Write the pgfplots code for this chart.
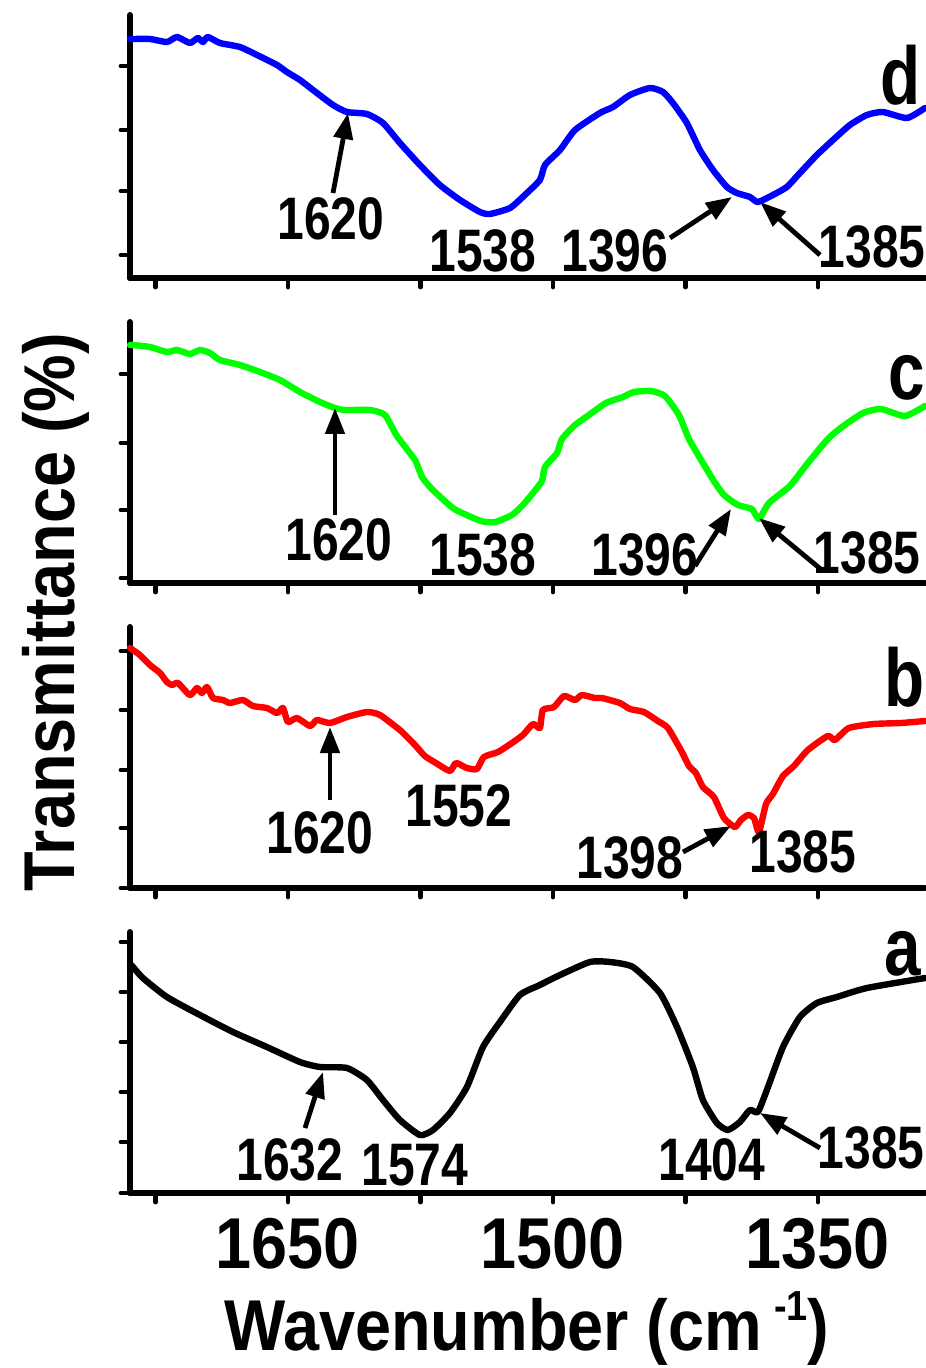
\documentclass[border=0pt]{standalone}
\usepackage{fontspec}
\setmainfont{Liberation Sans}[FakeStretch=0.9]
\newfontfamily\annfont{Liberation Sans}[FakeStretch=0.80]
\usepackage{pgfplots}
\pgfplotsset{compat=1.18}
\usetikzlibrary{arrows.meta}
\pgfplotsset{
  panel/.style={
    scale only axis, width=397.5pt,
    xmin=1289.4, xmax=1739.4, x dir=reverse,
    ymin=0,
    axis lines=left,
    axis line style={-, line width=3pt, black, line cap=round},
    xtick={1350,1425,1500,1575,1650,1725},
    xticklabels={},
    yticklabels={},
    tick align=outside,
    major tick length=4.5pt,
    tick style={line width=2.4pt, black, line cap=round},
    clip=false,
    every axis plot/.append style={line width=3.2pt, line join=round, line cap=round, mark=none, smooth, tension=0.35},
  }
}
\begin{document}
\begin{tikzpicture}
\path[use as bounding box] (0pt,0pt) rectangle (462.5pt,-684pt);

% panel d
\begin{axis}[panel, at={(65pt,-139pt)}, anchor=south west, height=131.5pt, ymax=263,
  ytick={23,87,148,212}]
\addplot[blue] coordinates {
(1739.4,239)(1737.7,239)(1728.1,239)(1718.5,236)(1712.8,241)(1705.5,235)(1701.0,240)(1698.1,236)(1695.3,241)
(1688.5,235)(1677.2,231)(1667.5,223)(1656.2,213)(1650.6,206)(1643.2,198)(1633.6,185)(1624.5,173)(1616.6,166)
(1605.3,164)(1596.2,155)(1586.6,135)(1575.3,113)(1564.0,93)(1552.6,78)(1541.3,66)(1535.7,64)(1524.3,70)
(1515.9,83)(1507.4,98)(1504.5,113)(1496.0,128)(1487.5,148)(1473.4,165)(1466.0,171)(1456.4,183)(1445.1,190)
(1437.7,186)(1432.1,175)(1424.2,155)(1416.8,128)(1409.4,108)(1401.5,91)(1395.9,85)(1388.5,81)(1384.0,76)
(1375.5,83)(1367.6,91)(1360.2,105)(1350.6,123)(1341.5,138)(1331.9,153)(1322.3,163)(1313.3,166)(1299.6,160)(1289.4,170)
};
\end{axis}

% panel c
\begin{axis}[panel, at={(65pt,-291.5pt)}, anchor=south west, height=130.5pt, ymax=261,
  ytick={5,73,140,209}]
\addplot[color={rgb,255:red,0;green,255;blue,0}] coordinates {
(1739.4,238)(1737.7,238)(1728.1,236)(1718.5,231)(1712.8,233)(1705.5,229)(1699.8,233)(1694.1,230)(1688.5,223)
(1677.2,218)(1665.8,211)(1654.5,203)(1643.2,191)(1631.9,181)(1623.4,175)(1617.7,173)(1603.6,173)(1595.1,168)
(1588.3,147)(1578.1,123)(1574.1,106)(1568.5,94)(1560.6,81)(1554.9,73)(1540.8,62)(1532.8,61)(1523.2,68)
(1517.0,78)(1511.3,90)(1506.2,102)(1504.5,116)(1497.7,130)(1494.9,144)(1487.5,158)(1479.6,168)(1470.0,180)
(1460.4,186)(1454.2,191)(1444.5,192)(1436.6,187)(1428.7,168)(1423.0,144)(1416.8,125)(1408.9,102)(1403.2,88)
(1395.3,78)(1387.4,74)(1383.4,64)(1377.7,80)(1365.9,97)(1355.7,120)(1344.4,144)(1336.4,156)(1324.5,170)
(1314.4,174)(1300.8,167)(1289.4,177)
};
\end{axis}

% panel b
\begin{axis}[panel, at={(65pt,-444pt)}, anchor=south west, height=130.5pt, ymax=261,
  ytick={0,60,118,178,237}]
\addplot[red] coordinates {
(1739.4,240)(1737.7,238)(1733.8,233)(1728.1,223)(1722.4,215)(1718.5,206)(1715.6,203)(1712.3,205)(1705.5,193)
(1701.5,200)(1698.7,195)(1695.8,201)(1692.4,190)(1686.8,188)(1682.8,185)(1675.5,188)(1669.8,182)(1661.9,180)
(1656.2,175)(1652.8,180)(1650.0,166)(1644.9,170)(1637.5,162)(1633.6,168)(1626.2,165)(1616.6,171)(1605.3,176)
(1597.9,173)(1586.0,157)(1578.1,143)(1572.5,132)(1566.2,125)(1558.3,117)(1554.9,125)(1548.7,120)(1543.0,119)
(1539.1,131)(1531.1,136)(1523.2,145)(1517.0,153)(1511.3,164)(1507.4,160)(1505.7,178)(1499.4,181)(1493.8,192)
(1487.5,188)(1483.6,193)(1476.2,190)(1472.3,190)(1462.1,185)(1456.4,179)(1448.5,176)(1440.6,167)(1434.9,160)
(1427.0,136)(1423.0,122)(1419.1,115)(1415.1,101)(1408.9,91)(1403.2,70)(1397.0,61)(1393.6,68)(1389.6,73)
(1386.2,70)(1383.4,56)(1379.4,84)(1375.5,94)(1369.8,112)(1363.6,122)(1355.7,138)(1344.4,152)(1340.4,148)
(1332.5,160)(1318.3,164)(1303.0,165)(1289.4,167)
};
\end{axis}

% panel a
\begin{axis}[panel, at={(65pt,-596.5pt)}, anchor=south west, height=130.5pt, ymax=261,
  ytick={0,51,101,151,201,251},
  xticklabels={\textbf{1350},,\textbf{1500},,\textbf{1650},},
  xticklabel style={font=\fontsize{36}{36}\selectfont\bfseries, anchor=base, yshift=-33pt}]
\addplot[black] coordinates {
(1739.4,229)(1737.7,226)(1732.1,215)(1718.5,196)(1699.8,178)(1681.1,161)(1661.9,146)(1643.2,131)(1631.9,126)
(1616.6,125)(1605.3,113)(1596.2,93)(1586.6,73)(1575.3,58)(1567.9,63)(1558.3,80)(1548.7,106)(1539.6,146)
(1530.0,171)(1518.7,198)(1507.4,208)(1496.0,218)(1479.1,231)(1467.7,231)(1454.7,226)(1439.4,200)(1429.8,166)
(1420.8,126)(1415.1,93)(1407.2,70)(1401.0,63)(1394.2,71)(1388.5,83)(1384.0,81)(1378.9,103)(1369.8,146)
(1360.2,176)(1350.6,190)(1339.3,196)(1322.3,205)(1289.4,215)
};
\end{axis}

\begin{scope}[x=0.5pt,y=-0.5pt]
\tikzset{ann/.style={anchor=base, font=\fontsize{30}{30}\selectfont\annfont\bfseries, inner sep=0pt},
  lab/.style={anchor=base, font=\fontsize{41}{41}\selectfont\annfont\bfseries, inner sep=0pt},
  arr/.style={line width=2.4pt, -{Triangle[length=13pt,width=9.5pt]}}}
% d
\node[ann] at (331,240) {1620};
\node[ann] at (483,272) {1538};
\node[ann] at (615,272) {1396};
\node[ann] at (872,268) {1385};
\node[lab] at (901,105) {d};
\draw[arr] (333,193) -- (348,113);
\draw[arr] (670,238) -- (732,197);
\draw[arr] (820,255) -- (760,202);
% c
\node[ann] at (339,560) {1620};
\node[ann] at (483,575) {1538};
\node[ann] at (645,575) {1396};
\node[ann] at (867,573) {1385};
\node[lab] at (907,400) {c};
\draw[arr] (335,515) -- (335,408);
\draw[arr] (695,566) -- (731,509);
\draw[arr] (823,571) -- (759,518);
% b
\node[ann] at (320,853) {1620};
\node[ann] at (459,826) {1552};
\node[ann] at (630,878) {1398};
\node[ann] at (803,872) {1385};
\node[lab] at (905,706) {b};
\draw[arr] (330,800) -- (330,727);
\draw[arr] (683,852) -- (731,826);
% a
\node[ann] at (290,1180) {1632};
\node[ann] at (415,1185) {1574};
\node[ann] at (712,1180) {1404};
\node[ann] at (871,1168) {1385};
\node[lab] at (903,975) {a};
\draw[arr] (305,1128) -- (323,1072);
\draw[arr] (820,1148) -- (760,1113);
% axis titles
\node[anchor=base, inner sep=0pt, font=\fontsize{36}{36}\selectfont\bfseries] at (527,1350) {Wavenumber (cm\,\raisebox{15pt}{\fontsize{21}{21}\selectfont -1})};
\node[anchor=base, inner sep=0pt, rotate=90, font=\fontsize{36}{36}\selectfont\bfseries] at (74,612) {Transmittance (\%)};
\end{scope}
\end{tikzpicture}
\end{document}
